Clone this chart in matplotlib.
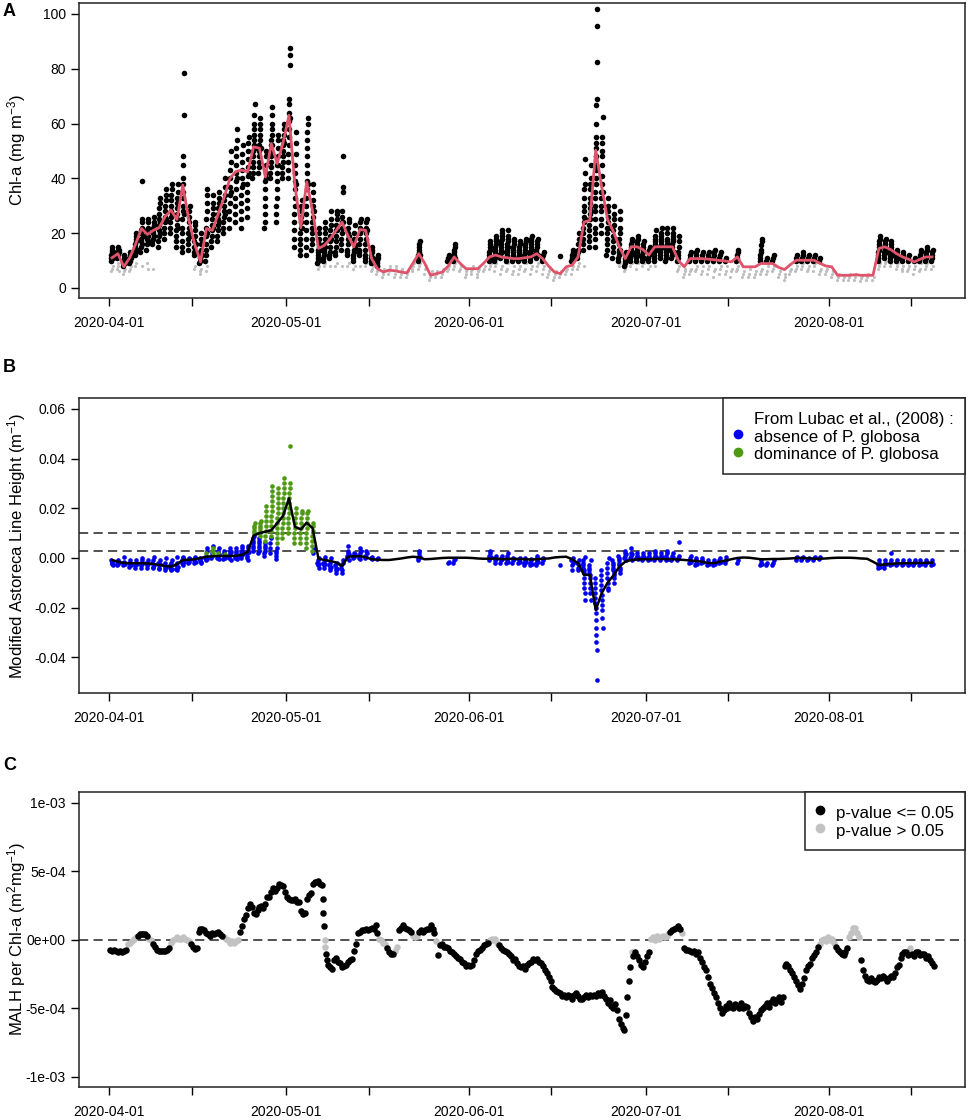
import numpy as np
import pandas as pd
import matplotlib
matplotlib.use("Agg")
import matplotlib.pyplot as plt
import matplotlib.dates as mdates
from matplotlib.lines import Line2D

plt.rcParams['font.family'] = ['Liberation Sans', 'DejaVu Sans']
plt.rcParams['mathtext.fontset'] = 'custom'
plt.rcParams['mathtext.rm'] = 'Liberation Sans'
plt.rcParams['mathtext.it'] = 'Liberation Sans:italic'

START = pd.Timestamp("2020-04-01")

# ---- panel A: Chl-a (mg m-3) ----
# daily median (red line), one value per day from 2020-04-01
chl_daily = [
    11, 12.5, 7.7, 11, 16, 21.7, 19.5, 21, 22, 26,
    28.4, 25, 37.5, 25, 16, 9.5, 21.7, 21, 27, 33,
    40, 42.5, 43, 42.4, 51.5, 51, 40.5, 52.7, 45.4, 53,
    63, 37.5, 22, 38.7, 28, 14.4, 15.5, 18, 21, 24,
    19, 15, 21.3, 21, 10.7, 7, 5.8, 6.5, 6.2, 5.8,
    5.5, 9, 12.5, 9, 4.6, 5.2, 5.8, 8, 11.3, 9,
    7, 7, 7, 9, 11.3, 12, 11.3, 11, 10.7, 10.7,
    11, 11.3, 12.5, 10.7, 8, 5.8, 5.2, 7.7, 8.3, 11.3,
    24, 24.7, 50.3, 37, 25, 20.5, 15, 10.7, 15, 15,
    14, 12, 15, 15, 15, 15, 10, 7.7, 10.7, 10.7,
    10.7, 10.5, 10.3, 10, 9.8, 9.5, 11.3, 7.7, 7.7, 7.7,
    8.9, 8.9, 8.9, 7.5, 6.7, 8.5, 10.1, 10.1, 10.1, 10.1,
    9, 8, 7.7, 4.6, 4.6, 4.6, 4.8, 4.6, 4.6, 4.6,
    14.4, 15, 14, 12.5, 11.3, 10.5, 9.5, 10.5, 11.3, 11.3,
]

# black points (day index -> readings of that day)
chl_black = {
    0: "10 11 12 13 14 15 11 12 13", 1: "11 12 13 14 15 12 13 14",
    2: "8 9 10 11 12 10 9", 3: "9 10 11 12 13 10 11",
    4: "12 13 14 15 16 17 18 19 20 14",
    5: "13 15 17 18 20 21 22 24 25 39 16 19",
    6: "14 16 18 20 21 22 24 25 19 17",
    7: "16 17 18 20 21 22 23 24 26 19",
    8: "15 17 19 21 23 25 27 29 31 33 20 24",
    9: "18 20 22 24 26 28 30 32 34 36 25",
    10: "20 22 24 26 28 30 32 34 36 38 27",
    11: "15 17 19 21 23 25 27 29 31 33 35 38 22",
    12: "13 15 17 20 22 25 28 30 33 35 38 40 45 48 63 78.5 27",
    13: "14 16 18 20 22 24 26 28 30 19",
    14: "12 13 15 17 19 21 23 24 16",
    15: "9 10 11 12 13 14 16 18 20 12",
    16: "10 12 14 16 19 22 25 28 31 34 36 20",
    17: "15 17 19 21 23 25 27 29 31 34 22",
    18: "17 19 21 23 25 27 29 31 33 35 24",
    19: "20 22 24 26 28 30 32 34 37 40 27",
    20: "22 25 28 31 34 37 40 43 46 50 35",
    21: "24 27 30 33 36 39 42 45 48 51 54 58 40",
    22: "22 25 28 31 34 37 40 43 46 49 52 38",
    23: "26 29 32 35 38 41 44 47 50 53 55 42",
    24: "40 42 44 46 48 50 52 54 56 58 60 63 67 51",
    25: "42 44 46 48 50 52 54 56 58 60 62 51",
    26: "22 24 27 30 33 36 39 42 45 48 50 40",
    27: "40 42 44 46 48 50 52 54 56 58 60 63 66 52",
    28: "24 27 30 33 36 39 42 45 48 51 54 56 45",
    29: "40 42 44 46 48 50 52 54 56 58 60 53",
    30: "40 43 46 49 52 55 58 61 64 67 69 81.5 85 87.5 62",
    31: "15 18 21 24 27 30 33 36 39 42 45 49 53 57 38",
    32: "12 14 16 18 20 22 24 26 28 30 32 22",
    33: "12 15 18 21 24 27 30 33 36 39 42 45 48 51 54 57 60 62 38",
    34: "14 16 18 20 22 24 26 28 30 32 35 38 28",
    35: "9 10 11 12 13 14 15 16 18 20 22 14",
    36: "10 11 12 13 14 15 16 18 20 22 24 15",
    37: "11 12 13 15 17 19 21 23 25 28 18",
    38: "12 13 15 17 19 21 23 25 27 28 21",
    39: "14 16 18 20 22 24 26 28 35 37 48 24",
    40: "12 13 14 16 18 20 22 24 25 19",
    41: "10 11 12 13 14 16 18 20 23 15",
    42: "12 13 14 16 18 20 22 24 25 21",
    43: "10 11 12 14 16 18 20 22 24 25 21",
    44: "9 10 11 12 13 14 15 11", 45: "8 9 10 11 12",
    52: "10 11 12 13 14 15 16 17 12", 57: "10 11 12",
    58: "10 11 12 13 14 15 16 11",
    64: "10 11 12 13 14 15 16 17 11",
    65: "10 11 12 13 14 15 16 17 18 19 12",
    66: "11 12 13 14 15 16 17 18 19 20 21 13",
    67: "10 11 12 13 14 15 16 17 18 19 21 15",
    68: "10 11 12 13 14 15 16 17 18 11",
    69: "10 11 12 13 14 15 16 17 11",
    70: "10 11 12 13 14 15 16 17 18 13",
    71: "10 11 12 13 14 15 16 17 18 19 12",
    72: "11 12 13 14 15 16 17 18 12", 73: "10 11 12 13",
    76: "11.5", 78: "10 11 12 13 14", 79: "11 12 13 14 16 18 20",
    80: "14 16 18 20 22 24 26 28 30 33 36 38 42 47 25",
    81: "15 17 19 21 23 25 27 29 31 33 36 38 40 45 28",
    82: "15 18 20 22 25 28 30 33 35 38 40 43 45 48 51 53 55 60 66.7 69 82.6 95.7 102",
    83: "20 23 25 28 30 33 35 38 41 45 48 50 53 55 62.5 35",
    84: "12 14 16 18 20 22 24 26 28 30 33 22",
    85: "11 13 15 17 19 21 23 25 27 30 18",
    86: "10 11 12 13 14 16 18 20 22 25 28 14",
    87: "8 9 10 11 12 13",
    88: "10 11 12 13 14 15 16 17 18 13",
    89: "10 11 12 13 14 15 16 17 18 19 12",
    90: "10 11 12 13 14 15 16 17 11", 91: "10 11 12 13 14 15",
    92: "10 11 12 13 14 15 16 17 18 19 21 14",
    93: "11 12 13 14 15 16 17 18 19 20 22 15",
    94: "10 11 12 13 14 15 16 17 18 20 22 14",
    95: "11 12 13 14 15 16 17 18 19 20 22 13",
    96: "10 11 12 13 15 17 19",
    98: "10 11 12 13", 99: "10 11 12 13 14", 100: "10 11 12 13",
    101: "10 11 12 13", 102: "10 11 12 13 14", 103: "10 11 12 13",
    104: "10 11", 106: "10 11 12 13 14", 110: "10 11 12 13 14 15.6 17 18",
    111: "10 11", 112: "10 11 12", 116: "10 11 12", 117: "10 11 12 13",
    118: "10 11 12", 119: "10 11 12", 120: "10 11",
    130: "10 11 12 13 14 15 16 17 18 19 15",
    131: "11 12 13 14 15 16 17 18 13",
    132: "10 11 12 13 14 15 16 17 12", 133: "10 11 12 13 14 11",
    134: "10 11 12 13", 135: "10 11 12", 136: "10 11",
    137: "10 11 12 13 14", 138: "10 11 12 13 14 15", 139: "10 11 12 13 14",
}

# grey points
chl_grey = {
    0: "6 7 8", 1: "7 8 9 6", 2: "5 6 7", 3: "6 7 8", 4: "8 9", 5: "8",
    6: "9 7", 7: "7", 14: "7 8", 15: "5 6 7", 16: "6 8", 35: "7 8",
    36: "8 9", 37: "8", 38: "8 9", 39: "8", 40: "8 9", 41: "7 8",
    42: "8", 43: "8 9", 44: "6 7 8", 45: "5 6 7 8", 46: "4 5 6 7",
    47: "5 6 7 8", 48: "4 5 7 8", 49: "4 5 6 7", 50: "4 5 6",
    51: "6 7 8 9", 52: "7 8 9", 53: "5 7 8", 54: "3 4 5 6", 55: "4 5 6",
    56: "4 5 6 7", 57: "6 7 8", 58: "7 8 9", 59: "6 7 8", 60: "4 5 6 7",
    61: "5 6 7 8", 62: "4 5 6 7", 63: "6 7 8", 64: "7 8 9", 65: "6 8 9",
    66: "5 7 8", 67: "6 7 9", 68: "5 6 8", 69: "5 7 8", 70: "6 7 9",
    71: "5 7 8", 72: "6 8 9", 73: "5 7 8", 74: "4 5 6 7", 75: "3 4 5 6",
    76: "4 5 6", 77: "5 6 7", 78: "5 7 8", 79: "7 8 9", 80: "8",
    86: "8 9", 87: "6 7 8", 88: "8 9", 89: "7 9", 90: "8 9", 91: "7 8",
    92: "8", 96: "6 7 8", 97: "4 5 6 7", 98: "5 6 7", 99: "6 7 8",
    100: "5 6 8", 101: "5 7 8", 102: "4 6 7", 103: "5 7 8", 104: "5 6 8",
    105: "4 6 7", 106: "6 7 8", 107: "4 5 6", 108: "4 5 7", 109: "4 5 6",
    110: "5 6 7", 111: "5 6 8", 112: "6 7 8", 113: "4 5 6", 114: "3 4 5",
    115: "5 6 7", 116: "6 7 8", 117: "7 8 9", 118: "6 7 8", 119: "6 8 9",
    120: "5 6 7", 121: "5 6 7", 122: "4 5 6", 123: "3 4 5", 124: "3 4",
    125: "3 4 5", 126: "3 4 5", 127: "2.5 3.5 4.5", 128: "3 4 5",
    129: "3 4", 130: "7 8 9", 131: "8 9 10", 132: "8 9", 133: "7 8 9",
    134: "6 7 8", 135: "6 7 8", 136: "5 7 8", 137: "6 7 9", 138: "7 8 9",
    139: "7 8",
}

# ---- panel B: MALH (x 1e-3 m-1), "g" = dominance of P. globosa ----
malh_line = [
    -0.8, -1.5, -2, -2.1, -2.1, -2.1, -2.2, -2.4, -2.8, -3.2,
    -3.5, -2.5, -0.8, -0.7, -0.5, 0, 0.5, 0.7, 0.8, 0.8,
    0.8, 0.9, 1.2, 2.5, 9, 10, 10.6, 11.2, 14, 17,
    24, 12.6, 11.5, 14.2, 12, -0.3, -0.8, -1.2, -1.8, -3.2,
    0.5, 0.7, 0.8, 0.3, -0.5, -0.7, -0.8, -0.8, -0.5, -0.2,
    0.2, 0.5, 0.3, -0.5, -0.4, -0.2, 0, 0.1, 0.1, 0.1,
    0.1, 0, -0.2, -0.3, -0.3, -0.2, -0.5, -0.4, -0.3, -0.4,
    -0.5, -0.6, -0.5, -0.3, -0.2, 0.2, 0.4, 0.5, -0.5, -2.1,
    -6.8, -6.8, -20.9, -14.2, -10, -7, -3.5, -1.5, -0.8, -0.6,
    -0.5, -0.5, -0.4, -0.4, -0.5, -0.5, -0.6, -0.8, -1, -1.2,
    -1.5, -2, -2.1, -1.5, -1, -0.5, 0, 0.2, 0.1, -0.2,
    -0.5, -0.5, -0.4, -0.4, -0.3, -0.2, 0, 0, -0.1, -0.3,
    -0.3, -0.2, 0, 0.1, 0.1, 0.1, 0, -0.2, -0.3, -1.5,
    -2.8, -2.6, -2.4, -2.2, -2.1, -2.1, -2, -2, -1.9, -1.9,
]

malh_pts = {
    0: "-1 -2 -1.5 -2.5 -3", 1: "-2 -3 -1 -2.5 -1.5", 2: "-2 -3 -1.5 0.5 -2.5",
    3: "-2 -3.5 -2.5 -1 -3", 4: "-3 -4 -2 -1 -2.5", 5: "-2 -3 -4 -1 0 -2.5",
    6: "-2 -3 -4 -1 -2.5", 7: "-2 -3.5 -4 -1 0.5 -3", 8: "-2 -3 -4 -4.5 -1 -2.5",
    9: "-3 -4 -5 -2 0 -3.5", 10: "-3 -4 -5 -2 -1 -4.5", 11: "-3 -4.5 -5 -2 0.5 -3.5",
    12: "-2 -1 0 0.5 -3 -1.5", 13: "-1 -2 0 -1.5 -0.5", 14: "-1 -2 0 0.5 -1.5",
    15: "-1 -0.5 0 -1.5 -2", 16: "0 -1 1 2g 4 -0.5 3", 17: "0 1 2 3g 4g 5 2g",
    18: "0 1 2g 3 4 -0.5 1.5", 19: "-0.5 1 2 3 1.5g 0", 20: "0 1 2 3 4 -1 2.5",
    21: "0 1 2 3 4 0.5 -0.5", 22: "0 1 2 3 4 5 1.5", 23: "0 1 2 3 4 5 -1 2.5",
    24: "3 4 5 6 7 8 9 10g 11g 12g 13g 14g",
    25: "2 3 4 5 6 7 8 9g 10g 11g 12g 13g 14g 15g",
    26: "1 2 3 4 5 6 7g 9g 11g 13g 15g 17g 19g 21g",
    27: "2 4 6 8 9g 11g 13g 15g 17g 19g 21g 23g 25g 27g 29g",
    28: "-0.5 1 2 3 4 6g 8g 10g 12g 14g 16g 18g 20g 22g 24g 26g 28g",
    29: "8g 10g 12g 14g 16g 18g 20g 22g 24g 26g 28g 30g 32g",
    30: "10g 12g 14g 16g 18g 20g 22g 24g 26g 28g 30g 45g",
    31: "6g 8g 10g 12g 14g 16g 18g 20g", 32: "6g 8g 10g 12g 14g 16g 18g 19g",
    33: "4g 6g 8g 10g 12g 14g 16g 18g 19g", 34: "3g 5g 7g 9g 11g 13g 14g 2 4",
    35: "-2 -3 -1 0 -4 -2.5", 36: "-2 -3 -4 -1 0.5 -2.5", 37: "-3 -4 -5 -2 0 -3.5",
    38: "-3 -4 -5 -6 -2 -4.5", 39: "-3 -4 -5 -6 -2 -1", 40: "0 1 2 3 5 -1 1.5",
    41: "0 1 2 0.5 1.5", 42: "0 1 2 4 -0.5 3", 43: "0 1 3 0.5 2", 44: "0 -0.5 0.5",
    45: "-0.5 0", 52: "-1 0 1 2 3 0.5", 57: "-2 -1.5", 58: "-2 -1 -0.5",
    64: "-1 0 1 2 3 0.5", 65: "-2 -1 0 1 -0.5", 66: "-2 -1 0 1 -0.5",
    67: "-2 -1 0 1 2 -1.5", 68: "-2 -1 0 -0.5", 69: "-2 -1 -0.5 0 -1.5",
    70: "-3 -2 -1 0 -1.5", 71: "-3 -2 -1 -0.5 -2.5", 72: "-3 -2 -1 0 1 -1.5",
    73: "-2 -1 0", 76: "-3", 78: "-1 -3 -5 0 -2", 79: "-2 -4 -5 -1 -3",
    80: "-1 -2 -3 -4 -5 -6 -8 -10 -12 -14 -17 0.5",
    81: "-3 -4 -5 -6 -7 -8 -10 -12 -14 -17 -1",
    82: "-8 -10 -12 -14 -16 -18 -20 -22 -25 -28 -31 -34 -37 -49",
    83: "-5 -7 -9 -11 -13 -15 -17 -19 -21 -24 -28",
    84: "-2 -4 -6 -8 -10 -12 -13 0", 85: "-1 -2 -3 -4 -5 -6 -7 -8 -10",
    86: "1 0 -1 -2 -3 -4 -5 -6", 87: "0 1 2 3 -1 1.5", 88: "0 1 2 4 -1 1.5",
    89: "0 1 2 -0.5 0.5", 90: "-1 0 1 2 0.5", 91: "-1 0 1 2 -0.5",
    92: "-1 0 1 2 3 0.5", 93: "-1 0 1 2 0.5", 94: "-1 0 1 2 3 -0.5",
    95: "-1 0 1 2 0.5", 96: "-1 0 1 6.4", 98: "-2 -1 0 1 -1.5",
    99: "-3 -2 -1 0 -2.5", 100: "-2 -1 0 -1.5", 101: "-3 -2 -1 -2.5",
    102: "-3 -2 -1 -2.5", 103: "-2 -1 0 -1.5", 104: "-2 -1 0.5",
    106: "-2 -1", 110: "-3 -2 -1 -2.5", 111: "-3 -2", 112: "-3 -2 -1",
    116: "-1 0 0.5", 117: "-1 0 0.5", 118: "-1 -0.5 0", 119: "-1 0 0.5",
    120: "-0.5 0.5", 130: "-4 -3 -2 -1 -3.5", 131: "-4 -3 -2 -1 -2.5",
    132: "-3 -2 -1 2 -2.5", 133: "-3 -2 -1 -2.5", 134: "-3 -2 -1 -2.5",
    135: "-3 -2 -1 -2.5", 136: "-3 -2 -1 -1.5", 137: "-3 -2 -1 -2.5",
    138: "-3 -2 -1 -1.5", 139: "-3 -2 -1 -2.5",
}

# ---- panel C: MALH per Chl-a (x 1e-4 m2 mg-1), "*" = p-value > 0.05 ----
ratio_pts = {
    0: "-0.7 -0.8 -0.7", 1: "-0.8 -0.9 -0.8", 2: "-0.9 -0.8 -0.7",
    3: "-0.3* -0.2* -0.1*", 4: "0.1* 0.2* 0.3", 5: "0.4 0.45 0.45",
    6: "0.4 0.3 0.1*", 7: "0* -0.3 -0.5", 8: "-0.7 -0.8 -0.8",
    9: "-0.8 -0.8 -0.7", 10: "-0.6 -0.2* 0*", 11: "0.1* 0.2* 0.1*",
    12: "0.1* 0.2* 0.1*", 13: "0* -0.1* -0.3", 14: "-0.5 -0.66 -0.6",
    15: "0.6 0.8 0.8", 16: "0.7 0.5 0.4", 17: "0.3 0.5 0.4",
    18: "0.5 0.6 0.4", 19: "0.3 0.2* 0.1*", 20: "0* -0.2* -0.1*",
    21: "-0.2* -0.1* 0*", 22: "0.6 1.0 1.5", 23: "1.8 2.3 2.6",
    24: "2.4 2.0 1.9", 25: "2.2 2.4 2.5", 26: "2.3 2.6 3.1",
    27: "3.1 3.5 3.8", 28: "3.6 3.8 4.1", 29: "4.0 3.9 3.5",
    30: "3.1 3.0 2.9", 31: "2.9 3.0 2.8", 32: "2.8 2.1 1.9",
    33: "2.0 3.0 3.3", 34: "3.4 4.1 4.2", 35: "4.2 4.3 4.1",
    36: "4.0 3.0 2.0 1.0 0* -0.5* -1.0 -1.5", 37: "-1.8 -2.0 -2.1",
    38: "-1.5 -1.3 -1.6", 39: "-1.7 -2.0 -1.9", 40: "-1.8 -1.6 -1.5",
    41: "-1.4 -0.8 -0.3", 42: "0.5 0.6 0.7", 43: "0.7 0.8 0.7",
    44: "0.8 0.9 0.8", 45: "1.1 0.5 0.1*", 46: "0* -0.2* -0.3*",
    47: "-0.6 -0.9 -1.0", 48: "-1.0 -0.8* -0.5*", 49: "0.7 0.9 1.1",
    50: "0.9 0.8 0.7", 51: "0.6 0.3* 0.2*", 52: "0.3* 0.6 0.7",
    53: "0.6 0.7 0.8", 54: "0.8 1.1 0.8", 55: "0.5 -0.1* -1.1",
    56: "-0.4 -0.3 -0.5", 57: "-0.5 -0.6 -0.8", 58: "-0.9 -1.0 -1.2",
    59: "-1.3 -1.4 -1.6", 60: "-1.7 -1.9 -1.8", 61: "-1.9 -1.8 -1.5",
    62: "-1.0 -0.8 -0.7", 63: "-0.6 -0.4 -0.3", 64: "-0.2 0* 0.1*",
    65: "0* 0.1* -0.2*", 66: "-0.4 -0.6 -0.7", 67: "-0.8 -0.9 -1.0",
    68: "-1.2 -1.5 -1.4", 69: "-1.7 -1.9 -2.0", 70: "-1.9 -2.1 -1.8",
    71: "-1.7 -1.6 -1.4", 72: "-1.5 -1.4 -1.6", 73: "-1.7 -1.9 -2.2",
    74: "-2.4 -2.7 -3.0", 75: "-3.4 -3.6 -3.7", 76: "-3.8 -3.9 -4.1",
    77: "-4.0 -4.2 -4.0", 78: "-4.1 -4.3 -4.0", 79: "-3.9 -4.1 -4.3",
    80: "-4.3 -4.2 -4.0", 81: "-4.2 -4.0 -4.1", 82: "-4.0 -4.1 -3.9",
    83: "-4.0 -3.8 -4.1", 84: "-4.3 -4.6 -4.4", 85: "-4.8 -5.0 -4.7",
    86: "-5.1 -5.8 -6.1", 87: "-6.4 -6.6 -5.5 -4.2",
    88: "-3.0 -2.0 -0.9* -1.2", 89: "-0.9 -1.2 -1.5", 90: "-1.8 -2.0 -1.6",
    91: "-1.2 -0.9 0.1*", 92: "0.2* 0* 0.3*", 93: "0.1* 0.2* 0.3*",
    94: "0.2* 0.3* 0.4*", 95: "0.6 0.7 0.8", 96: "0.9 1.0 0.8",
    97: "0.5* -0.6 -0.7", 98: "-0.7 -0.8 -0.9", 99: "-0.8 -1.0 -0.9",
    100: "-1.3 -1.6 -2.0", 101: "-2.2 -2.7 -3.2", 102: "-3.5 -3.9 -4.2",
    103: "-4.6 -5.0 -5.3", 104: "-5.1 -4.8 -5.0", 105: "-4.6 -4.9 -5.0",
    106: "-4.7 -4.8 -5.0", 107: "-4.6 -5.0 -4.8", 108: "-4.9 -5.3 -5.6",
    109: "-5.9 -5.6 -5.8", 110: "-5.4 -5.1 -5.0", 111: "-4.8 -4.6 -4.9",
    112: "-4.5 -4.3 -4.6", 113: "-4.4 -4.2 -4.5", 114: "-4.2 -1.9 -1.75",
    115: "-1.9 -2.2 -2.4", 116: "-2.7 -3.0 -3.3", 117: "-3.6 -3.2 -2.8",
    118: "-2.2 -1.9 -1.75", 119: "-1.3 -1.1 -0.9", 120: "-0.5 -0.3* 0*",
    121: "0.1* -0.1* 0.2*", 122: "0* 0.1* -0.2*", 123: "-0.5 -0.7 -0.9",
    124: "-1.0 -1.1 -0.9", 125: "-0.6 0.2* 0.5*", 126: "0.9* 0.9* 0.5*",
    127: "0.2* -1.5 -2.2", 128: "-2.6 -2.9 -3.0", 129: "-2.8 -3.0 -3.1",
    130: "-2.9 -2.7 -2.8", 131: "-2.6 -2.8 -3.0", 132: "-2.8 -2.6 -2.7",
    133: "-2.4 -2.0 -1.8", 134: "-1.3 -1.0 -0.9", 135: "-0.9 -1.1 -0.6*",
    136: "-1.0 -1.2 -0.9", 137: "-0.9 -1.1 -1.0", 138: "-1.0 -1.3 -1.2",
    139: "-1.5 -1.7 -1.9",
}


def day_points(table, lo, hi, scale=1.0):
    """spread each day's readings over [day+lo, day+hi], return times, values, flags"""
    xs, ys, flags = [], [], []
    for day, text in table.items():
        vals = text.split()
        n = len(vals)
        for i, tok in enumerate(vals):
            xs.append(day + lo + (hi - lo) * (i + 0.5) / n)
            ys.append(float(tok.rstrip("g*")) * scale)
            flags.append(tok[-1] in "g*")
    t = (START + pd.to_timedelta(np.array(xs), unit="D")).to_numpy()
    return t, np.array(ys), np.array(flags)


def daily_times(n):
    return (START + pd.to_timedelta(np.arange(n) + 0.5, unit="D")).to_numpy()


def style_axes(ax):
    ax.set_xlim(START - pd.Timedelta(days=5.1), START + pd.Timedelta(days=145.1))
    ax.xaxis.set_major_locator(mdates.MonthLocator(bymonthday=1))
    ax.xaxis.set_major_formatter(mdates.DateFormatter("%Y-%m-%d"))
    ax.xaxis.set_minor_locator(mdates.MonthLocator(bymonthday=15))
    ax.tick_params(axis="x", which="both", length=5.5, width=1, pad=7.5, labelsize=10)
    ax.tick_params(axis="y", length=5.5, width=1, pad=4, labelsize=10)
    ax.yaxis.set_label_coords(-0.058, 0.5)
    for sp in ax.spines.values():
        sp.set_linewidth(1.1)
        sp.set_color("#222222")


def box_legend(ax, handles, labels):
    leg = ax.legend(handles, labels, loc="upper right", borderaxespad=0,
                    fancybox=False, framealpha=1, edgecolor="#222222",
                    fontsize=12.2, labelspacing=0, handlelength=0.5,
                    handletextpad=0.7, handleheight=1.25, borderpad=0.65)
    leg.get_frame().set_linewidth(1.1)
    return leg


fig = plt.figure(figsize=(9.69, 11.2), dpi=100)
L, W, H = 0.0815, 0.9144, 0.2634

# A
axA = fig.add_axes([L, 0.7339, W, H])
t, v, _ = day_points(chl_grey, 0.25, 0.75)
axA.scatter(t, v, s=5, color="#BEBEBE", linewidths=0, zorder=1)
t, v, _ = day_points(chl_black, 0.3, 0.7)
axA.scatter(t, v, s=16, color="black", linewidths=0, zorder=2)
axA.plot(daily_times(len(chl_daily)), chl_daily, color="#DF536B", lw=2, zorder=3)
axA.set_ylim(-3.7, 104)
axA.set_yticks([0, 20, 40, 60, 80, 100])
axA.set_ylabel("Chl-a (mg m$^{-3}$)", fontsize=12)
style_axes(axA)

# B
axB = fig.add_axes([L, 0.3813, W, H])
t, v, g = day_points(malh_pts, 0.3, 0.7, 1e-3)
axB.scatter(t[~g], v[~g], s=11, color="#0000EE", linewidths=0, zorder=2)
axB.scatter(t[g], v[g], s=11, color="#4D9A12", linewidths=0, zorder=2)
axB.plot(daily_times(len(malh_line)), np.array(malh_line) * 1e-3, color="black", lw=1.8, zorder=3)
for yl in (0.01, 0.003):
    axB.axhline(yl, color="#222222", lw=1.1, ls=(0, (6, 3.5)), zorder=1)
axB.set_ylim(-0.0543, 0.0644)
axB.set_yticks([-0.04, -0.02, 0.0, 0.02, 0.04, 0.06])
axB.set_yticklabels(["-0.04", "-0.02", "0.00", "0.02", "0.04", "0.06"])
axB.set_ylabel("Modified Astoreca Line Height (m$^{-1}$)", fontsize=12)
style_axes(axB)
hB = [Line2D([], [], ls="none", marker=None),
      Line2D([], [], ls="none", marker="o", ms=6, color="#0000EE"),
      Line2D([], [], ls="none", marker="o", ms=6, color="#4D9A12")]
box_legend(axB, hB, ["From Lubac et al., (2008) :", "absence of P. globosa",
                     "dominance of P. globosa"])

# C
axC = fig.add_axes([L, 0.0295, W, H])
t, v, g = day_points(ratio_pts, 0.0, 1.0, 1e-4)
axC.axhline(0, color="#222222", lw=1.1, ls=(0, (6, 3.5)), zorder=1)
axC.scatter(t[g], v[g], s=22, color="#C2C2C2", linewidths=0, zorder=2)
axC.scatter(t[~g], v[~g], s=22, color="black", linewidths=0, zorder=3)
axC.set_ylim(-1.073e-3, 1.08e-3)
axC.set_yticks([-1e-3, -5e-4, 0, 5e-4, 1e-3])
axC.set_yticklabels(["-1e-03", "-5e-04", "0e+00", "5e-04", "1e-03"])
axC.set_ylabel("MALH per Chl-a (m$^{2}$mg$^{-1}$)", fontsize=12)
style_axes(axC)
hC = [Line2D([], [], ls="none", marker="o", ms=6, color="black"),
      Line2D([], [], ls="none", marker="o", ms=6, color="#C2C2C2")]
box_legend(axC, hC, ["p-value <= 0.05", "p-value > 0.05"])

for lab, y in (("A", 1 - 12 / 1120), ("B", 1 - 367 / 1120), ("C", 1 - 765 / 1120)):
    fig.text(0.003, y, lab, fontsize=13, fontweight="bold", va="center", ha="left")

fig.savefig("out.png", dpi=100)
